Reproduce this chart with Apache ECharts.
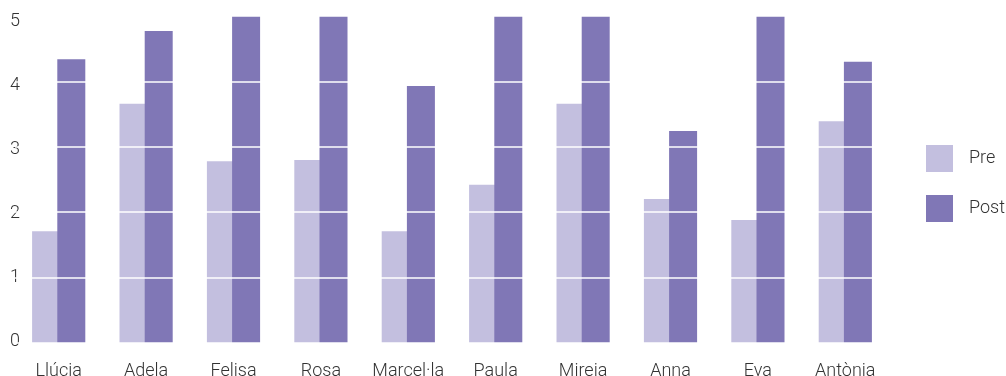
<!DOCTYPE html>
<html>
<head>
<meta charset="utf-8">
<script src="https://cdn.jsdelivr.net/npm/echarts@6/dist/echarts.min.js"></script>
<style>
  html, body { margin: 0; padding: 0; background: #fff; }
  #chart { width: 1006px; height: 376px; }
</style>
</head>
<body>
<div id="chart"></div>
<script>
// Students and their scores before and after
const categories = ['Llúcia', 'Adela', 'Felisa', 'Rosa', 'Marcel·la', 'Paula', 'Mireia', 'Anna', 'Eva', 'Antònia'];
const preValues  = [1.71, 3.66, 2.78, 2.80, 1.71, 2.42, 3.66, 2.20, 1.88, 3.39];
const postValues = [4.34, 4.77, 5, 5, 3.93, 5, 5, 3.24, 5, 4.30];
const yTicks = [0, 1, 2, 3, 4, 5];

const font = 'Roboto, sans-serif';
const textColor = '#333333';
const fontSize = 18;
const chart = echarts.init(document.getElementById('chart'), null, { renderer: 'canvas' });

chart.setOption({
  animation: false,
  backgroundColor: '#ffffff',
  grid: [
    // plot area holding the bars and white grid lines
    { left: 15, right: 117, top: 16, bottom: 33, containLabel: false, outerBoundsMode: 'none' },
    // slightly shorter scale that carries the tick labels
    { left: 15, right: 117, top: 21, bottom: 35, containLabel: false, outerBoundsMode: 'none' }
  ],
  legend: {
    orient: 'vertical',
    left: 926,
    top: 145,
    padding: 0,
    itemWidth: 27,
    itemHeight: 27,
    itemGap: 23,
    icon: 'rect',
    textStyle: { fontFamily: font, fontSize: fontSize, fontWeight: 300, color: textColor, padding: [0, 0, 0, 11] },
    data: ['Pre', 'Post']
  },
  xAxis: [
    {
      type: 'category',
      gridIndex: 0,
      data: categories,
      axisLine: { show: false },
      axisTick: { show: false },
      axisLabel: { fontFamily: font, fontSize: fontSize, fontWeight: 300, color: textColor, margin: 19, interval: 0 }
    },
    {
      type: 'category',
      gridIndex: 1,
      data: categories,
      show: false
    }
  ],
  yAxis: [
    {
      type: 'value',
      gridIndex: 0,
      min: yTicks[0],
      max: yTicks[yTicks.length - 1],
      interval: 1,
      z: 10,
      axisLine: { show: false },
      axisTick: { show: false },
      axisLabel: { show: false },
      splitLine: { show: true, lineStyle: { color: '#ffffff', width: 1.5 } }
    },
    {
      type: 'value',
      gridIndex: 1,
      min: yTicks[0],
      max: yTicks[yTicks.length - 1],
      interval: 1,
      axisLine: { show: false },
      axisTick: { show: false },
      splitLine: { show: false },
      axisLabel: { fontFamily: font, fontSize: fontSize, fontWeight: 300, color: textColor, margin: -5, align: 'right' }
    }
  ],
  series: [
    {
      name: 'Pre',
      type: 'bar',
      data: preValues,
      barWidth: 28,
      barGap: '-10%',
      itemStyle: { color: '#c3bfdf' }
    },
    {
      name: 'Post',
      type: 'bar',
      data: postValues,
      barWidth: 28,
      barGap: '-10%',
      itemStyle: { color: '#8077b6' }
    }
  ]
});
</script>
</body>
</html>
